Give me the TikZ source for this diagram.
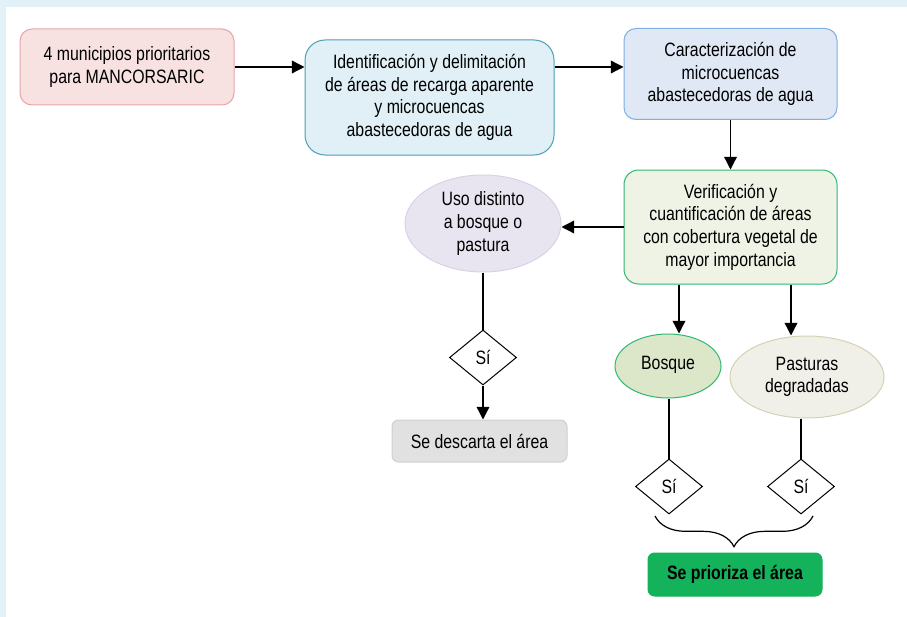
\documentclass[tikz,border=0pt]{standalone}
\usepackage{fontspec}
\setmainfont{Liberation Sans}[FakeStretch=0.82]
\usetikzlibrary{shapes.geometric,arrows.meta,decorations.pathreplacing,calc}

\definecolor{marco}{RGB}{226,241,247}
\definecolor{rosaF}{RGB}{247,225,225}
\definecolor{rosaB}{RGB}{230,166,166}
\definecolor{celesteF}{RGB}{224,240,246}
\definecolor{celesteB}{RGB}{75,160,181}
\definecolor{azulF}{RGB}{223,232,244}
\definecolor{azulB}{RGB}{126,176,227}
\definecolor{verdeF}{RGB}{239,243,229}
\definecolor{verdeB}{RGB}{46,184,114}
\definecolor{lilaF}{RGB}{233,229,240}
\definecolor{lilaB}{RGB}{217,210,230}
\definecolor{bosqueF}{RGB}{220,230,201}
\definecolor{pastoF}{RGB}{241,240,232}
\definecolor{pastoB}{RGB}{214,208,181}
\definecolor{grisF}{RGB}{225,225,225}
\definecolor{grisB}{RGB}{207,207,207}
\definecolor{prioF}{RGB}{19,178,91}

\newcommand{\letra}{\fontsize{14.5}{17}\selectfont}

\begin{document}
\begin{tikzpicture}[x=0.75pt,y=0.75pt,yscale=-1,xscale=1,
  caja/.style={draw, line width=0.75pt, align=center, font=\letra, inner sep=0pt},
  elipse/.style={caja, ellipse},
  rombo/.style={caja, diamond, fill=white, minimum width=50.25pt, minimum height=41.25pt},
  flecha/.style={line width=1pt, -{Triangle[length=9.5pt,width=9.5pt]}},
  linea/.style={line width=1pt}]
\useasboundingbox (0,0) rectangle (907,617);

%Frame
\fill [marco] (0,0) rectangle (907,617);
\fill [white] (6,7) rectangle (907,617);

%Shape: Rounded Rect
\node [caja, rounded corners=9pt, fill=rosaF, draw=rosaB, minimum width=160.5pt, minimum height=57pt] (mun) at (127,67) {4 municipios prioritarios\\para MANCORSARIC};
%Shape: Rounded Rect
\node [caja, rounded corners=15pt, fill=celesteF, draw=celesteB, minimum width=186.75pt, minimum height=86.25pt] (ident) at (429.5,97.5) {Identificación y delimitación\\de áreas de recarga aparente\\y microcuencas\\abastecedoras de agua};
%Shape: Rounded Rect
\node [caja, rounded corners=9pt, fill=azulF, draw=azulB, minimum width=159.75pt, minimum height=68.25pt] (carac) at (730.5,74) {Caracterización de\\microcuencas\\abastecedoras de agua};
%Shape: Rounded Rect
\node [caja, rounded corners=11pt, fill=verdeF, draw=verdeB, minimum width=159.75pt, minimum height=85.5pt] (verif) at (730.5,227) {Verificación y\\cuantificación de áreas\\con cobertura vegetal de\\mayor importancia};
%Shape: Ellipse
\node [elipse, fill=lilaF, draw=lilaB, minimum width=117pt, minimum height=72.75pt] (uso) at (483,223.5) {Uso distinto\\a bosque o\\pastura};
%Shape: Diamond
\node [rombo] (si1) at (483,357.5) {Sí};
%Shape: Rounded Rect
\node [caja, rounded corners=5pt, fill=grisF, draw=grisB, minimum width=131.25pt, minimum height=31.5pt] (descarta) at (479.5,441) {Se descarta el área};
%Shape: Ellipse
\node [elipse, fill=bosqueF, draw=verdeB, minimum width=79.5pt, minimum height=48pt] (bosque) at (668,366) {\raisebox{4pt}{Bosque}};
%Shape: Ellipse
\node [elipse, fill=pastoF, draw=pastoB, minimum width=115.5pt, minimum height=61.5pt] (pasto) at (807,377) {Pasturas\\degradadas};
%Shape: Diamond
\node [rombo] (si2) at (669,486.5) {Sí};
%Shape: Diamond
\node [rombo] (si3) at (801,486.5) {Sí};
%Shape: Rounded Rect
\node [caja, rounded corners=5pt, fill=prioF, draw=prioF, minimum width=130.5pt, minimum height=32.25pt, font=\letra\bfseries] (prioriza) at (735,574.5) {Se prioriza el área};

%Straight Lines
\draw [flecha] (mun.east) -- (mun.east -| ident.west);
\draw [flecha] (mun.east -| ident.east) -- (mun.east -| carac.west);
\draw [flecha] (carac.south) -- (verif.north);
\draw [flecha] (verif.west) -- (verif.west -| uso.east);
\draw [linea] (uso.south) -- (si1.north);
\draw [flecha] (si1.south) -- (si1.south |- descarta.north);
\draw [flecha] ($(verif.south)+(-51.5,0)$) coordinate (bajaB) -- (bajaB |- bosque.north);
\draw [flecha] ($(verif.south)+(60.5,0)$) coordinate (bajaP) -- (bajaP |- pasto.north);
\draw [linea] (si2.north |- bosque.south) -- (si2.north);
\draw [linea] (si3.north |- pasto.south) -- (si3.north);

%Shape: Brace
\coordinate (llaveI) at (655,516);
\coordinate (llaveD) at (813,516);
\draw [line width=0.9pt, decorate, decoration={brace, amplitude=23pt, aspect=0.5}] (llaveD) -- (llaveI);

\end{tikzpicture}
\end{document}
